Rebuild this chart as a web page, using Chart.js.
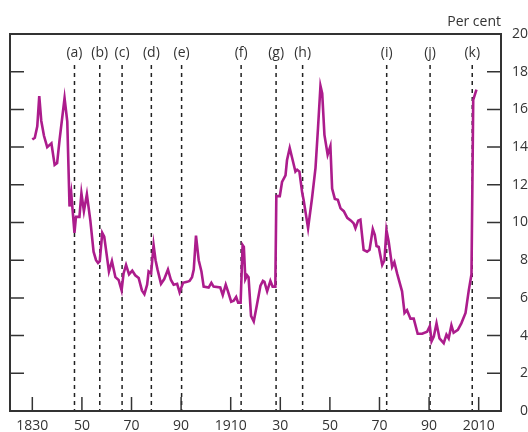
<!DOCTYPE html>
<html>
<head>
<meta charset="utf-8">
<script src="https://cdn.jsdelivr.net/npm/chart.js@4/dist/chart.umd.min.js"></script>
<style>
  html, body { margin: 0; padding: 0; background: #fff; }
  #wrap { width: 528px; height: 432px; position: relative; }
</style>
</head>
<body>
<div id="wrap"><canvas id="rate-chart"></canvas></div>
<script>
// years (decimal) and rate in per cent
const years = [
  1830.0, 1831.0, 1832.0, 1832.8, 1833.6, 1834.7, 1836.0, 1837.7, 1839.0, 1840.0,
  1841.0, 1843.0, 1844.1, 1845.0, 1845.7, 1846.1, 1847.0, 1847.6, 1849.0, 1849.8,
  1850.8, 1852.0, 1853.4, 1854.7, 1855.7, 1856.5, 1857.2, 1858.2, 1859.0, 1860.9,
  1862.1, 1863.5, 1864.8, 1866.0, 1866.8, 1867.8, 1869.0, 1870.3, 1871.5, 1872.9,
  1874.2, 1875.2, 1876.3, 1876.9, 1877.9, 1878.9, 1879.7, 1880.5, 1881.9, 1883.2,
  1884.7, 1885.9, 1887.0, 1888.4, 1889.4, 1890.8, 1892.4, 1893.4, 1894.4, 1895.1,
  1896.0, 1897.1, 1898.2, 1899.1, 1901.1, 1902.2, 1903.1, 1905.8, 1906.8, 1908.0,
  1908.9, 1910.2, 1911.2, 1912.2, 1913.0, 1914.0, 1914.8, 1915.3, 1915.9, 1916.6,
  1917.2, 1918.2, 1919.3, 1920.6, 1922.0, 1923.0, 1923.6, 1924.7, 1926.0, 1926.9,
  1928.0, 1928.4, 1929.8, 1930.7, 1932.1, 1932.7, 1933.8, 1935.0, 1936.1, 1936.8,
  1937.7, 1938.8, 1939.4, 1941.2, 1942.8, 1944.2, 1945.2, 1946.2, 1946.9, 1947.8,
  1949.1, 1950.2, 1950.9, 1952.0, 1953.2, 1954.3, 1955.6, 1957.0, 1958.5, 1959.6,
  1960.3, 1961.4, 1962.3, 1963.6, 1965.0, 1966.0, 1967.3, 1968.1, 1968.8, 1969.7,
  1971.1, 1972.0, 1972.8, 1973.7, 1975.1, 1976.0, 1977.1, 1979.1, 1980.1, 1981.1,
  1982.5, 1983.8, 1985.4, 1987.2, 1989.2, 1990.3, 1991.0, 1991.9, 1993.0, 1994.2,
  1995.9, 1997.0, 1997.9, 1999.0, 1999.9, 2001.6, 2003.0, 2004.7, 2006.0, 2007.1,
  2007.8, 2009.1
];
const rates = [
  14.4, 14.5, 15.1, 16.7, 15.4, 14.6, 14.0, 14.2, 13.05, 13.15,
  14.4, 16.6, 15.35, 10.85, 11.55, 10.9, 9.45, 10.3, 10.3, 11.55,
  10.6, 11.5, 10.1, 8.45, 8.0, 7.85, 7.95, 9.45, 9.25, 7.4,
  7.95, 7.1, 6.95, 6.4, 7.3, 7.75, 7.25, 7.45, 7.2, 7.05,
  6.4, 6.2, 6.7, 7.4, 7.3, 8.8, 8.0, 7.5, 6.75, 7.0,
  7.5, 6.95, 6.7, 6.75, 6.3, 6.8, 6.85, 6.9, 7.1, 7.5,
  9.3, 8.0, 7.4, 6.6, 6.55, 6.8, 6.6, 6.55, 6.15, 6.7,
  6.35, 5.8, 5.85, 6.05, 5.75, 5.75, 8.8, 8.7, 7.0, 7.2,
  7.1, 5.05, 4.75, 5.65, 6.65, 6.9, 6.85, 6.35, 6.9, 6.6,
  6.6, 11.4, 11.4, 12.15, 12.5, 13.3, 13.95, 13.3, 12.7, 12.8,
  12.7, 11.6, 11.2, 9.7, 11.3, 12.9, 15.0, 17.25, 16.85, 14.65,
  13.6, 14.05, 11.8, 11.25, 11.2, 10.75, 10.6, 10.25, 10.1, 9.95,
  9.7, 10.1, 10.15, 8.55, 8.45, 8.55, 9.65, 9.35, 8.75, 8.7,
  7.75, 8.0, 9.6, 9.0, 7.65, 7.9, 7.3, 6.35, 5.2, 5.35,
  4.9, 4.9, 4.1, 4.1, 4.2, 4.5, 3.7, 3.95, 4.65, 3.85,
  3.6, 4.05, 3.85, 4.55, 4.15, 4.3, 4.65, 5.2, 6.4, 7.25,
  16.5, 17.05
];
// vertical dashed markers
const eventYears = [1847, 1857.2, 1866.2, 1878, 1890.2, 1914.2, 1928.3, 1939, 1972.9, 1990.4, 2007.4];
const eventLabels = ["(a)", "(b)", "(c)", "(d)", "(e)", "(f)", "(g)", "(h)", "(i)", "(j)", "(k)"];
// axis ticks
const tickYears = [1830, 1850, 1870, 1890, 1910, 1930, 1950, 1970, 1990, 2010];
const tickLabels = ["1830", "50", "70", "90", "1910", "30", "50", "70", "90", "2010"];
const yTicks = [0, 2, 4, 6, 8, 10, 12, 14, 16, 18, 20];

const lineColour = "rgb(172, 28, 140)";
const inkColour = "#333333";
const fontFamily = "'Open Sans', 'Noto Sans', sans-serif";

// frame, inward ticks, dashed event lines and their labels, unit label
const decorations = {
  id: "decorations",
  beforeDatasetsDraw(chart) {
    const { ctx, chartArea, scales } = chart;
    const { top, bottom } = chartArea;
    ctx.save();
    ctx.strokeStyle = "#222222";
    ctx.lineWidth = 1.5;
    ctx.setLineDash([4, 4]);
    ctx.fillStyle = inkColour;
    ctx.font = "14px " + fontFamily;
    ctx.textAlign = "center";
    ctx.textBaseline = "middle";
    eventYears.forEach((yr, i) => {
      const x = scales.x.getPixelForValue(yr);
      ctx.beginPath();
      ctx.moveTo(x, top + 31);
      ctx.lineTo(x, bottom);
      ctx.stroke();
      ctx.fillText(eventLabels[i], x, top + 19);
    });
    ctx.restore();
  },
  afterDraw(chart) {
    const { ctx, chartArea, scales } = chart;
    const { left, right, top, bottom } = chartArea;
    ctx.save();
    ctx.strokeStyle = inkColour;
    ctx.lineWidth = 1.5;
    // x ticks pointing up into the plot
    tickYears.forEach((yr) => {
      const x = scales.x.getPixelForValue(yr);
      ctx.beginPath();
      ctx.moveTo(x, bottom);
      ctx.lineTo(x, bottom - 14);
      ctx.stroke();
    });
    // y ticks on both sides, pointing inwards
    yTicks.slice(1, -1).forEach((v) => {
      const y = scales.y.getPixelForValue(v);
      ctx.beginPath();
      ctx.moveTo(left, y);
      ctx.lineTo(left + 14, y);
      ctx.moveTo(right, y);
      ctx.lineTo(right - 14, y);
      ctx.stroke();
    });
    ctx.lineWidth = 2;
    ctx.strokeRect(left, top, right - left, bottom - top);
    ctx.fillStyle = inkColour;
    ctx.font = "14px " + fontFamily;
    ctx.textAlign = "right";
    ctx.textBaseline = "middle";
    ctx.fillText("Per cent", right, top - 12);
    ctx.restore();
  },
};

const points = years.map((yr, i) => ({ x: yr, y: rates[i] }));

new Chart(document.getElementById("rate-chart"), {
  type: "line",
  data: {
    datasets: [
      {
        data: points,
        borderColor: lineColour,
        borderWidth: 2.6,
        pointRadius: 0,
        tension: 0,
        fill: false,
      },
    ],
  },
  options: {
    responsive: true,
    maintainAspectRatio: false,
    animation: false,
    layout: { padding: { left: 10, top: 34, right: 0, bottom: 0 } },
    plugins: {
      legend: { display: false },
      tooltip: { enabled: false },
    },
    scales: {
      x: {
        type: "linear",
        min: 1821,
        max: 2019,
        grid: { display: false, drawTicks: false },
        border: { display: false },
        afterBuildTicks: (scale) => {
          scale.ticks = tickYears.map((v) => ({ value: v }));
        },
        afterFit: (scale) => {
          scale.height = 21;
        },
        ticks: {
          autoSkip: false,
          maxRotation: 0,
          padding: 7,
          color: inkColour,
          font: { family: fontFamily, size: 14 },
          callback: (value, index) => tickLabels[index],
        },
      },
      y: {
        position: "right",
        min: 0,
        max: 20,
        grid: { display: false, drawTicks: false },
        border: { display: false },
        afterBuildTicks: (scale) => {
          scale.ticks = yTicks.map((v) => ({ value: v }));
        },
        afterFit: (scale) => {
          scale.width = 27;
        },
        ticks: {
          padding: 8,
          crossAlign: "far",
          color: inkColour,
          font: { family: fontFamily, size: 14 },
        },
      },
    },
  },
  plugins: [decorations],
});
</script>
</body>
</html>
